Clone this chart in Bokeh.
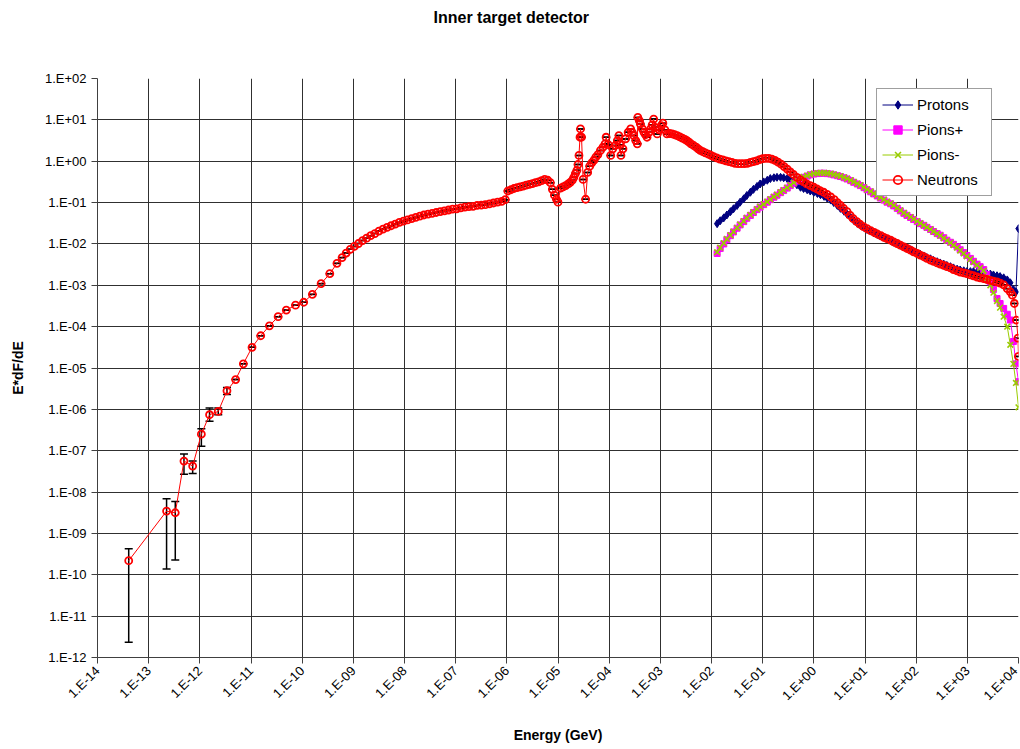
import math
import numpy as np
from bokeh.plotting import figure
from bokeh.models import (Range1d, FixedTicker, CustomJSTickFormatter, ColumnDataSource,
                          Whisker, Legend, LegendItem, Title)
from bokeh.embed import file_html
from bokeh.resources import INLINE

# ---------------- data (log10 of energy in GeV, log10 of E*dF/dE) ----------------
neutron_logE = [
    -13.39, -12.65, -12.48, -12.31, -12.14, -11.97, -11.81, -11.64, -11.47, -11.30,
    -11.15, -10.98, -10.81, -10.64, -10.47, -10.31, -10.13, -9.97, -9.80, -9.63,
    -9.46, -9.32, -9.22, -9.14, -9.06, -8.98, -8.90, -8.82, -8.74, -8.66,
    -8.58, -8.50, -8.42, -8.34, -8.26, -8.18, -8.10, -8.02, -7.94, -7.86,
    -7.78, -7.70, -7.62, -7.54, -7.46, -7.38, -7.30, -7.22, -7.14, -7.06,
    -6.98, -6.90, -6.82, -6.74, -6.66, -6.58, -6.50, -6.42, -6.34, -6.26,
    -6.18, -6.10, -6.03, -5.98, -5.92, -5.86, -5.80, -5.74, -5.68, -5.62,
    -5.56, -5.50, -5.44, -5.38, -5.32, -5.26, -5.20, -5.15, -5.11, -5.07,
    -5.03, -5.00, -4.95, -4.90, -4.85, -4.80, -4.76, -4.72, -4.69, -4.66,
    -4.63, -4.61, -4.59, -4.57, -4.56, -4.54, -4.51, -4.46, -4.42, -4.38,
    -4.34, -4.30, -4.26, -4.22, -4.17, -4.12, -4.08, -4.06, -4.02, -3.97,
    -3.93, -3.88, -3.84, -3.81, -3.79, -3.77, -3.73, -3.68, -3.63, -3.58,
    -3.55, -3.52, -3.48, -3.45, -3.44, -3.41, -3.39, -3.35, -3.32, -3.29,
    -3.26, -3.22, -3.19, -3.16, -3.13, -3.10, -3.06, -3.02, -2.98, -2.95,
    -2.91, -2.87, -2.82, -2.77, -2.72, -2.67, -2.62, -2.57, -2.52, -2.48,
    -2.44, -2.40, -2.35, -2.30, -2.26, -2.22, -2.17, -2.12, -2.06, -2.01,
    -1.96, -1.90, -1.84, -1.78, -1.72, -1.66, -1.60, -1.54, -1.48, -1.42,
    -1.36, -1.30, -1.24, -1.18, -1.12, -1.06, -1.00, -0.94, -0.88, -0.82,
    -0.76, -0.70, -0.64, -0.58, -0.52, -0.46, -0.40, -0.33, -0.26, -0.20,
    -0.14, -0.07, 0.00, 0.06, 0.12, 0.19, 0.26, 0.33, 0.40, 0.46,
    0.52, 0.58, 0.65, 0.71, 0.77, 0.84, 0.90, 0.97, 1.04, 1.11,
    1.18, 1.24, 1.31, 1.37, 1.43, 1.50, 1.56, 1.63, 1.69, 1.76,
    1.82, 1.89, 1.95, 2.02, 2.08, 2.15, 2.21, 2.28, 2.34, 2.41,
    2.47, 2.54, 2.60, 2.67, 2.73, 2.80, 2.86, 2.93, 2.99, 3.06,
    3.12, 3.19, 3.25, 3.32, 3.38, 3.45, 3.51, 3.58, 3.64, 3.71,
    3.78, 3.84, 3.88, 3.92, 3.96, 3.99, 4.00,
]
neutron_logF = [
    -9.66, -8.46, -8.50, -7.25, -7.37, -6.60, -6.13, -6.05, -5.55, -5.28,
    -4.90, -4.50, -4.22, -3.98, -3.76, -3.60, -3.48, -3.41, -3.22, -2.96,
    -2.72, -2.47, -2.33, -2.22, -2.13, -2.06, -1.99, -1.92, -1.86, -1.80,
    -1.75, -1.69, -1.64, -1.60, -1.56, -1.52, -1.48, -1.45, -1.42, -1.39,
    -1.36, -1.33, -1.30, -1.28, -1.26, -1.24, -1.22, -1.20, -1.18, -1.16,
    -1.15, -1.13, -1.11, -1.10, -1.09, -1.07, -1.06, -1.05, -1.03, -1.01,
    -0.99, -0.97, -0.93, -0.72, -0.69, -0.66, -0.64, -0.62, -0.60, -0.58,
    -0.56, -0.54, -0.52, -0.50, -0.47, -0.44, -0.46, -0.52, -0.68, -0.82,
    -0.92, -0.99, -0.65, -0.62, -0.59, -0.55, -0.51, -0.46, -0.39, -0.30,
    -0.22, -0.08, 0.14, 0.58, 0.78, 0.58, -0.44, -0.92, -0.27, -0.12,
    -0.04, 0.02, 0.10, 0.16, 0.26, 0.34, 0.42, 0.58, 0.40, 0.14,
    0.30, 0.38, 0.50, 0.62, 0.40, 0.14, 0.30, 0.54, 0.70, 0.78,
    0.70, 0.62, 0.50, 0.42, 1.06, 0.98, 0.90, 0.78, 0.70, 0.64,
    0.58, 0.70, 0.78, 0.88, 1.02, 0.82, 0.66, 0.76, 0.86, 0.92,
    0.76, 0.66, 0.67, 0.66, 0.64, 0.62, 0.59, 0.56, 0.53, 0.50,
    0.46, 0.42, 0.38, 0.34, 0.30, 0.26, 0.23, 0.20, 0.17, 0.14,
    0.11, 0.08, 0.05, 0.03, 0.01, -0.01, -0.03, -0.05, -0.06, -0.06,
    -0.06, -0.05, -0.03, -0.01, 0.01, 0.04, 0.06, 0.07, 0.07, 0.05,
    0.02, -0.02, -0.07, -0.13, -0.19, -0.26, -0.32, -0.39, -0.45, -0.50,
    -0.55, -0.59, -0.63, -0.67, -0.71, -0.75, -0.80, -0.86, -0.93, -1.00,
    -1.07, -1.14, -1.22, -1.31, -1.39, -1.46, -1.52, -1.58, -1.63, -1.68,
    -1.72, -1.76, -1.80, -1.84, -1.87, -1.91, -1.95, -1.99, -2.03, -2.07,
    -2.11, -2.15, -2.19, -2.23, -2.27, -2.31, -2.35, -2.39, -2.42, -2.46,
    -2.49, -2.52, -2.55, -2.58, -2.62, -2.65, -2.68, -2.70, -2.72, -2.75,
    -2.77, -2.80, -2.82, -2.84, -2.86, -2.88, -2.90, -2.92, -2.95, -2.99,
    -3.08, -3.16, -3.24, -3.44, -3.84, -4.28, -4.72,
]
# visible error bars of the first neutron points (log10 of lower / upper ends)
neutron_err_lo = [-11.63, -9.86, -9.64, -7.57, -7.55, -6.89, -6.29, -6.13, -5.64]
neutron_err_hi = [-9.37, -8.16, -8.23, -7.08, -7.25, -6.47, -5.97, -5.97, -5.47]

charged_logE = [
    -1.89, -1.83, -1.76, -1.70, -1.63, -1.57, -1.50, -1.44, -1.37, -1.31,
    -1.24, -1.18, -1.11, -1.05, -0.98, -0.91, -0.85, -0.78, -0.72, -0.65,
    -0.59, -0.52, -0.46, -0.39, -0.33, -0.26, -0.20, -0.13, -0.07, 0.00,
    0.07, 0.13, 0.20, 0.26, 0.33, 0.39, 0.46, 0.52, 0.59, 0.65,
    0.72, 0.78, 0.85, 0.91, 0.98, 1.04, 1.11, 1.17, 1.24, 1.30,
    1.37, 1.43, 1.50, 1.56, 1.63, 1.69, 1.76, 1.82, 1.89, 1.95,
    2.02, 2.08, 2.15, 2.21, 2.28, 2.34, 2.41, 2.47, 2.54, 2.60,
    2.67, 2.73, 2.80, 2.86, 2.93, 2.99, 3.06, 3.12, 3.19, 3.25,
    3.32, 3.38, 3.45, 3.51, 3.58, 3.64, 3.71, 3.78, 3.84, 3.90,
    3.95, 4.00,
]
proton_logF = [
    -1.51, -1.44, -1.37, -1.30, -1.22, -1.15, -1.07, -0.99, -0.91, -0.83,
    -0.75, -0.68, -0.61, -0.55, -0.50, -0.46, -0.42, -0.40, -0.39, -0.39,
    -0.40, -0.42, -0.45, -0.51, -0.57, -0.63, -0.66, -0.69, -0.72, -0.75,
    -0.78, -0.81, -0.85, -0.89, -0.94, -1.00, -1.07, -1.14, -1.21, -1.28,
    -1.36, -1.43, -1.50, -1.55, -1.60, -1.65, -1.69, -1.73, -1.77, -1.81,
    -1.84, -1.88, -1.92, -1.96, -1.99, -2.03, -2.07, -2.10, -2.14, -2.18,
    -2.22, -2.25, -2.29, -2.33, -2.36, -2.40, -2.43, -2.46, -2.49, -2.52,
    -2.55, -2.58, -2.61, -2.63, -2.65, -2.67, -2.67, -2.67, -2.68, -2.70,
    -2.71, -2.72, -2.73, -2.75, -2.77, -2.79, -2.82, -2.87, -2.94, -3.10,
    -3.16, -1.63,
]
pionp_logF = [
    -2.23, -2.11, -2.00, -1.90, -1.80, -1.71, -1.62, -1.54, -1.46, -1.38,
    -1.31, -1.24, -1.17, -1.11, -1.05, -0.99, -0.93, -0.87, -0.82, -0.76,
    -0.71, -0.65, -0.59, -0.53, -0.48, -0.43, -0.39, -0.36, -0.33, -0.31,
    -0.30, -0.29, -0.29, -0.30, -0.31, -0.33, -0.35, -0.37, -0.40, -0.43,
    -0.47, -0.51, -0.55, -0.59, -0.64, -0.69, -0.74, -0.79, -0.84, -0.89,
    -0.94, -0.99, -1.03, -1.08, -1.14, -1.20, -1.26, -1.31, -1.36, -1.41,
    -1.46, -1.51, -1.55, -1.60, -1.65, -1.70, -1.75, -1.79, -1.85, -1.91,
    -1.96, -2.01, -2.07, -2.14, -2.21, -2.28, -2.35, -2.42, -2.49, -2.55,
    -2.62, -2.74, -2.92, -3.10, -3.32, -3.44, -3.56, -3.70, -3.84, -4.36,
    -4.90, -5.33,
]
pionm_logF = [
    -2.20, -2.09, -1.98, -1.88, -1.79, -1.70, -1.61, -1.53, -1.45, -1.37,
    -1.30, -1.23, -1.16, -1.10, -1.04, -0.98, -0.92, -0.86, -0.81, -0.75,
    -0.70, -0.64, -0.58, -0.52, -0.47, -0.42, -0.38, -0.35, -0.32, -0.30,
    -0.29, -0.28, -0.28, -0.29, -0.30, -0.32, -0.34, -0.36, -0.39, -0.42,
    -0.46, -0.50, -0.54, -0.58, -0.63, -0.68, -0.73, -0.78, -0.83, -0.88,
    -0.93, -0.98, -1.02, -1.07, -1.13, -1.19, -1.25, -1.30, -1.35, -1.40,
    -1.45, -1.50, -1.55, -1.60, -1.65, -1.70, -1.75, -1.80, -1.86, -1.92,
    -1.97, -2.03, -2.09, -2.16, -2.23, -2.30, -2.37, -2.44, -2.51, -2.58,
    -2.65, -2.82, -3.00, -3.18, -3.38, -3.54, -3.76, -4.00, -4.44, -4.90,
    -5.36, -5.95,
]

x_tick_exp = list(range(-14, 5))
x_tick_labels = ["1.E-14", "1.E-13", "1.E-12", "1.E-11", "1.E-10", "1.E-09", "1.E-08",
                 "1.E-07", "1.E-06", "1.E-05", "1.E-04", "1.E-03", "1.E-02", "1.E-01",
                 "1.E+00", "1.E+01", "1.E+02", "1.E+03", "1.E+04"]
y_tick_exp = list(range(-12, 3))
y_tick_labels = ["1.E-12", "1.E-11", "1.E-10", "1.E-09", "1.E-08", "1.E-07", "1.E-06",
                 "1.E-05", "1.E-04", "1.E-03", "1.E-02", "1.E-01", "1.E+00", "1.E+01",
                 "1.E+02"]
title_text = "Inner target detector"

# ---------------- figure ----------------
FONT = "Liberation Sans"
p = figure(width=1020, height=749, x_axis_type="log", y_axis_type="log",
           x_range=Range1d(1e-14, 1e4), y_range=Range1d(1e-12, 1e2),
           output_backend="svg", toolbar_location=None, title=title_text)
p.min_border_left = 97
p.min_border_right = 2
p.min_border_top = 76
p.min_border_bottom = 92
p.outline_line_color = None
p.background_fill_color = "white"
p.border_fill_color = "white"

# main title (outermost) + a blank spacer title between it and the frame
p.title.align = "left"
p.title.offset = 336
p.title.vertical_align = "top"
p.title.standoff = 16
p.title.text_font = FONT
p.title.text_font_size = "16px"
p.title.text_font_style = "bold"
p.title.text_color = "black"
p.add_layout(Title(text=" ", text_font=FONT, text_font_size="16px", standoff=24), "above")

fmt_js = """
const e = Math.round(Math.log10(tick));
const i = exps.indexOf(e);
return i >= 0 ? labels[i] : '';
"""
p.xaxis.ticker = FixedTicker(ticks=[10.0 ** e for e in x_tick_exp])
p.yaxis.ticker = FixedTicker(ticks=[10.0 ** e for e in y_tick_exp])
p.xaxis.formatter = CustomJSTickFormatter(args=dict(exps=x_tick_exp, labels=x_tick_labels), code=fmt_js)
p.yaxis.formatter = CustomJSTickFormatter(args=dict(exps=y_tick_exp, labels=y_tick_labels), code=fmt_js)
p.xaxis.major_label_orientation = math.pi / 4
for ax in (p.xaxis, p.yaxis):
    ax.major_label_text_font = FONT
    ax.major_label_text_font_size = "13px"
    ax.major_label_text_color = "black"
    ax.axis_label_text_font = FONT
    ax.axis_label_text_font_size = "14px"
    ax.axis_label_text_font_style = "bold"
    ax.axis_label_text_color = "black"
    ax.axis_line_color = "#404040"
    ax.major_tick_line_color = "#404040"
    ax.major_tick_out = 6
    ax.major_tick_in = 0
    ax.minor_tick_line_color = None
p.xaxis.axis_label = "Energy (GeV)"
p.yaxis.axis_label = "E*dF/dE"
p.xaxis.axis_label_standoff = 16
p.yaxis.axis_label_standoff = 16

p.xgrid.grid_line_color = "#303030"
p.ygrid.grid_line_color = "#303030"
p.xgrid.grid_line_width = 1
p.ygrid.grid_line_width = 1

# ---------------- series ----------------
nE = 10.0 ** np.array(neutron_logE)
nF = 10.0 ** np.array(neutron_logF)
lo = nF.copy()
hi = nF.copy()
k = len(neutron_err_lo)
lo[:k] = 10.0 ** np.array(neutron_err_lo)
hi[:k] = 10.0 ** np.array(neutron_err_hi)
nsrc = ColumnDataSource(dict(x=nE, y=nF, lo=lo, hi=hi))

cE = 10.0 ** np.array(charged_logE)
psrc = ColumnDataSource(dict(x=cE, y=10.0 ** np.array(proton_logF)))
ppsrc = ColumnDataSource(dict(x=cE, y=10.0 ** np.array(pionp_logF)))
pmsrc = ColumnDataSource(dict(x=cE, y=10.0 ** np.array(pionm_logF)))

c_pro, c_pip, c_pim, c_neu = "#000080", "#FF00FF", "#99CC00", "#FF0000"

r_pl = p.line("x", "y", source=psrc, color=c_pro, line_width=1)
r_ps = p.scatter("x", "y", source=psrc, marker="diamond", size=8, color=c_pro)
r_ppl = p.line("x", "y", source=ppsrc, color=c_pip, line_width=1)
r_pps = p.scatter("x", "y", source=ppsrc, marker="square", size=6, color=c_pip)
r_pml = p.line("x", "y", source=pmsrc, color=c_pim, line_width=1)
r_pms = p.scatter("x", "y", source=pmsrc, marker="x", size=8, line_color=c_pim, line_width=1.6)
r_nl = p.line("x", "y", source=nsrc, color=c_neu, line_width=1)
r_ns = p.scatter("x", "y", source=nsrc, marker="circle", size=7, fill_color=None,
                 line_color=c_neu, line_width=1.8)
w = Whisker(source=nsrc, base="x", lower="lo", upper="hi", dimension="height",
            line_color="black", line_width=1.5)
w.upper_head.size = 8
w.lower_head.size = 8
w.upper_head.line_color = "black"
w.lower_head.line_color = "black"
w.upper_head.line_width = 1.5
w.lower_head.line_width = 1.5
p.add_layout(w)

legend = Legend(items=[
    LegendItem(label="Protons", renderers=[r_pl, r_ps]),
    LegendItem(label="Pions+", renderers=[r_ppl, r_pps]),
    LegendItem(label="Pions-", renderers=[r_pml, r_pms]),
    LegendItem(label="Neutrons", renderers=[r_nl, r_ns]),
], location=(779, 461))
legend.label_text_font = FONT
legend.label_text_font_size = "15px"
legend.label_text_color = "black"
legend.border_line_color = "#404040"
legend.border_line_width = 1
legend.background_fill_color = "white"
legend.background_fill_alpha = 1
legend.glyph_width = 31
legend.glyph_height = 21
legend.label_height = 21
legend.label_width = 69
legend.spacing = 4
legend.padding = 5
legend.margin = 0
legend.label_standoff = 4
p.add_layout(legend)

open("out.html", "w").write(file_html(p, INLINE))
